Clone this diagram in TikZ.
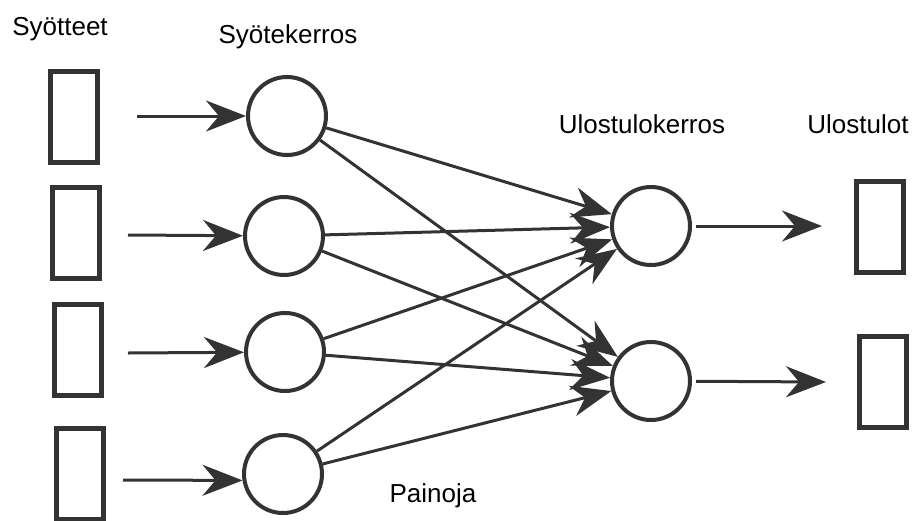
\documentclass[tikz,border=0pt]{standalone}
\usepackage{fontspec}
\setmainfont{Liberation Sans}
\usetikzlibrary{arrows.meta}
\definecolor{ink}{HTML}{333333}
\tikzset{
  box/.style={draw=ink, line width=5pt, minimum width=47pt, minimum height=91pt, inner sep=0pt},
  neuron/.style={draw=ink, line width=4pt, circle, minimum size=78pt, inner sep=0pt},
  conn/.style={draw=ink, line width=3pt, -{Stealth[length=40pt, width=31pt, inset=13pt]}},
  lbl/.style={font=\fontsize{26}{30}\selectfont, anchor=base, inner sep=0pt, text=black}
}
\begin{document}
\begin{tikzpicture}[x=1pt,y=-1pt]
\useasboundingbox (0,0) rectangle (913,520);
% input rects
\node[box] (r1) at (74,117) {};
\node[box] (r2) at (76,233) {};
\node[box] (r3) at (78,350) {};
\node[box] (r4) at (80,474) {};
% input neurons
\node[neuron] (c1) at (287,116) {};
\node[neuron] (c2) at (284,236) {};
\node[neuron] (c3) at (285,352) {};
\node[neuron] (c4) at (283,474) {};
% output neurons
\node[neuron] (o1) at (651,226) {};
\node[neuron] (o2) at (651,381) {};
% output rects
\node[box] (q1) at (880,227) {};
\node[box] (q2) at (883,382) {};
% arrow start/end coordinates
\coordinate (s1) at (137,116);
\coordinate (s2) at (128,235);
\coordinate (s3) at (128,353);
\coordinate (s4) at (123,480);
\coordinate (e1) at (822,226);
\coordinate (e2) at (826,382);
% input arrows
\draw[conn] (s1) -- (c1);
\draw[conn] (s2) -- (c2);
\draw[conn] (s3) -- (c3);
\draw[conn] (s4) -- (c4.189);
% weights
\foreach \i in {c1,c2,c3,c4}{
  \draw[conn] (\i) -- (o1);
  \draw[conn] (\i) -- (o2);
}
% output arrows
\draw[conn, shorten <=4pt] (o1) -- (e1);
\draw[conn, shorten <=4pt] (o2) -- (e2);
% labels
\node[lbl] (t1) at (60,35) {Syötteet};
\node[lbl] (t2) at (288,43) {Syötekerros};
\node[lbl] (t3) at (642,133) {Ulostulokerros};
\node[lbl] (t4) at (858,133) {Ulostulot};
\node[lbl] (t5) at (433,502) {Painoja};
\end{tikzpicture}
\end{document}
